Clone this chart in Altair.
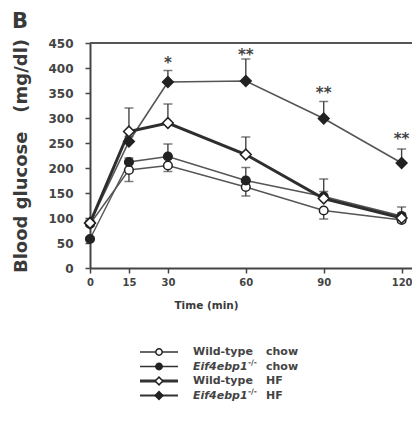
import altair as alt
import pandas as pd

# ---- data ----
time = [0, 15, 30, 60, 90, 120]
series_names = ["Wild-type chow", "Eif4ebp1-/- chow", "Wild-type HF", "Eif4ebp1-/- HF"]
wt_chow = [88, 196, 205, 162, 115, 96]
wt_chow_err = [4, 23, 12, 18, 17, 5]          # drawn downward
eif_chow = [58, 212, 223, 175, 143, 104]
eif_chow_err = [4, 8, 25, 26, 10, 18]
wt_hf = [90, 273, 290, 227, 139, 100]
wt_hf_err = [5, 47, 38, 35, 39, 10]
eif_hf = [90, 253, 372, 374, 299, 210]
eif_hf_err = [5, 10, 23, 44, 34, 28]

star_time = [30, 60, 90, 120]
star_text = ["*", "**", "**", "**"]
star_value = [410, 426, 350, 258]

x_ticks = [0, 15, 30, 60, 90, 120]
y_ticks = [0, 50, 100, 150, 200, 250, 300, 350, 400, 450]

FONT = "DejaVu Sans"
DARK = "#3a3a3a"

xs = alt.Scale(domain=[0, 124], nice=False, zero=False)
ys = alt.Scale(domain=[0, 450], nice=False)

xaxis = alt.Axis(values=x_ticks, title="Time (min)", grid=False, tickSize=5,
                 labelPadding=4, labelFontSize=10, labelFont=FONT,
                 labelFontWeight="bold", labelColor="#444", labelFlush=False,
                 titleFont=FONT, titleFontSize=10.5, titleFontWeight="bold",
                 titleColor=DARK, titleX=116, titleY=37, titleBaseline="middle",
                 titleAlign="center", domainWidth=2, domainColor="#444",
                 tickWidth=1.5, tickColor="#444")
yaxis = alt.Axis(values=y_ticks, title="Blood glucose\u00a0\u00a0\u00a0(mg/dl)",
                 grid=False, tickSize=5, labelPadding=12, labelFontSize=12,
                 labelFont=FONT, labelFontWeight="bold", labelColor="#444",
                 labelFlush=False, titleFont=FONT, titleFontSize=18,
                 titleFontWeight="bold", titleColor=DARK, titleX=-69,
                 titleY=112.5, titleAngle=270, titleAlign="center",
                 titleBaseline="middle", domainWidth=2, domainColor="#444",
                 tickWidth=1.5, tickColor="#444")


def X(f):
    return alt.X(f, type="quantitative", scale=xs, axis=xaxis)


def Y(f):
    return alt.Y(f, type="quantitative", scale=ys, axis=yaxis)


specs = [
    # name, values, errs, down, shape, filled, line width, line color
    (series_names[0], wt_chow, wt_chow_err, True, "circle", False, 1.4, "#555"),
    (series_names[1], eif_chow, eif_chow_err, False, "circle", True, 1.4, "#555"),
    (series_names[3], eif_hf, eif_hf_err, False, "diamond", True, 1.6, "#555"),
    (series_names[2], wt_hf, wt_hf_err, False, "diamond", False, 3.0, "#2e2e2e"),
]

lines, bars, points = [], [], []
for name, vals, errs, down, shape, filled, lw, lc in specs:
    df = pd.DataFrame({"time": time, "value": vals})
    if down:
        df["lo"] = [v - e for v, e in zip(vals, errs)]
        df["hi"] = vals
        df["cap"] = df["lo"]
    else:
        df["lo"] = vals
        df["hi"] = [v + e for v, e in zip(vals, errs)]
        df["cap"] = df["hi"]
    lines.append(alt.Chart(df).mark_line(color=lc, strokeWidth=lw).encode(
        x=X("time"), y=Y("value")))
    bars.append(alt.Chart(df).mark_rule(color="#444", strokeWidth=1.4).encode(
        x=X("time"), y=Y("lo"), y2="hi"))
    bars.append(alt.Chart(df).mark_tick(color="#444", orient="horizontal",
                                        size=9, thickness=1.5).encode(
        x=X("time"), y=Y("cap")))
    size = 75 if shape == "circle" else 115
    points.append(alt.Chart(df).mark_point(
        shape=shape, size=size, filled=True,
        fill="#222" if filled else "white", stroke="#222",
        strokeWidth=1.5, opacity=1).encode(x=X("time"), y=Y("value")))

border = alt.Chart(pd.DataFrame({"value": [450]})).mark_rule(
    color="#555", strokeWidth=2).encode(y=Y("value"))

stars_df = pd.DataFrame({"time": star_time, "value": star_value, "txt": star_text})
stars = alt.Chart(stars_df).mark_text(font=FONT, fontSize=15, fontWeight="bold",
                                      color="#444", baseline="middle").encode(
    x=X("time"), y=Y("value"), text="txt:N")

one = pd.DataFrame({"a": [0]})
panel = alt.Chart(one).mark_text(text="B", font=FONT, fontSize=21, fontWeight="bold",
                                 color=DARK, align="left", baseline="alphabetic").encode(
    x=alt.value(-78), y=alt.value(-15))

# ---- custom legend (below the plot) ----
leg_rows_y = [309, 323.5, 338, 352.5]
leg_style = [("circle", False, 1.4), ("circle", True, 1.4),
             ("diamond", False, 3.0), ("diamond", True, 2.2)]
LFS = 11
legend = []
for i, name in enumerate(series_names):
    yv = leg_rows_y[i]
    shape, filled, lw = leg_style[i]
    legend.append(alt.Chart(one).mark_rule(color="#333", strokeWidth=lw).encode(
        x=alt.value(50), x2=alt.value(88), y=alt.value(yv)))
    legend.append(alt.Chart(one).mark_point(
        shape=shape, size=40 if shape == "circle" else 60, filled=True,
        fill="#222" if filled else "white", stroke="#222", strokeWidth=1.5,
        opacity=1).encode(x=alt.value(69), y=alt.value(yv)))
    first, diet = name.rsplit(" ", 1)
    if first.startswith("Eif4ebp1"):
        legend.append(alt.Chart(one).mark_text(
            text="Eif4ebp1", font=FONT, fontSize=LFS, fontWeight="bold",
            fontStyle="italic", color="#444", align="left", baseline="middle").encode(
            x=alt.value(103), y=alt.value(yv)))
        legend.append(alt.Chart(one).mark_text(
            text="-/-", font=FONT, fontSize=7.5, fontWeight="bold",
            color="#444", align="left", baseline="middle").encode(
            x=alt.value(158), y=alt.value(yv - 4)))
    else:
        legend.append(alt.Chart(one).mark_text(
            text=first, font=FONT, fontSize=LFS, fontWeight="bold",
            color="#444", align="left", baseline="middle").encode(
            x=alt.value(103), y=alt.value(yv)))
    legend.append(alt.Chart(one).mark_text(
        text=diet, font=FONT, fontSize=LFS, fontWeight="bold",
        color="#444", align="left", baseline="middle").encode(
        x=alt.value(176), y=alt.value(yv)))

chart = alt.layer(border, *lines, *bars, *points, stars, panel, *legend).properties(
    width=322, height=225,
    padding={"left": 90, "top": 43, "right": 0, "bottom": 163},
    autosize=alt.AutoSizeParams(type="none"),
    background="white",
).configure_view(stroke=None)

chart.save("out.html", embed_options={"renderer": "svg", "actions": False})
